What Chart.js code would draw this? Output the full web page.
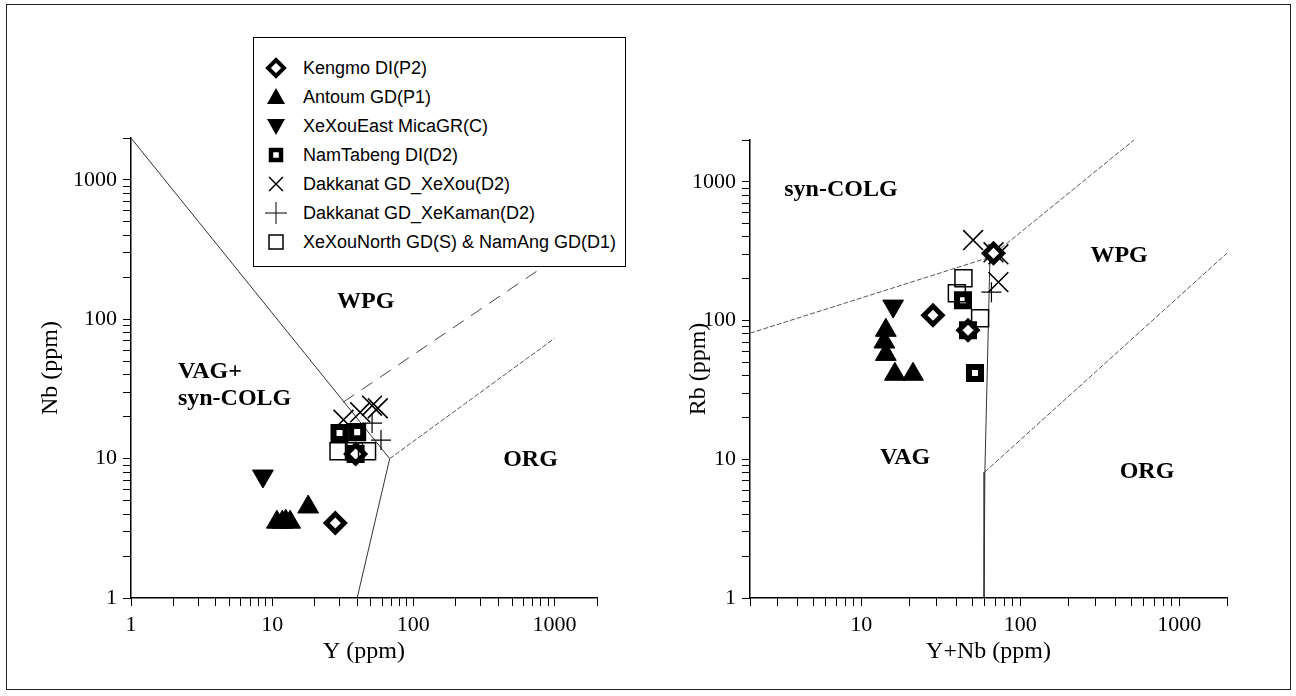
<!DOCTYPE html>
<html><head><meta charset="utf-8">
<script src="https://cdn.jsdelivr.net/npm/chart.js@4.4.1/dist/chart.umd.min.js"></script>
<style>
html,body{margin:0;padding:0;background:#fff;}
#wrap{position:relative;width:1296px;height:696px;overflow:hidden;background:#fff;}
#frame{position:absolute;left:6px;top:4px;width:1285px;height:686px;border:1.5px solid #222;box-sizing:border-box;}
canvas{position:absolute;top:0;}
#c1{left:0;} #c2{left:648px;}
#legend{position:absolute;left:253px;top:37px;width:373px;height:230px;border:1px solid #000;box-sizing:border-box;background:#fff;font:18px 'Liberation Sans',Arial,sans-serif;color:#000;}
.row{position:absolute;left:0;height:24px;line-height:24px;white-space:nowrap;width:370px;}
.row svg{position:absolute;left:10px;top:0;}
.row span{position:absolute;left:49px;top:0;}
</style></head>
<body>
<div id="wrap">
<div id="frame"></div>
<canvas id="c1" width="648" height="696"></canvas>
<canvas id="c2" width="648" height="696"></canvas>
<div id="legend"></div>
</div>
<script>
// ---------- series names ----------
const seriesNames = ['Kengmo DI(P2)','Antoum GD(P1)','XeXouEast MicaGR(C)','NamTabeng DI(D2)','Dakkanat GD_XeXou(D2)','Dakkanat GD_XeKaman(D2)','XeXouNorth GD(S) & NamAng GD(D1)'];

// ---------- Left plot: Y (ppm) vs Nb (ppm) ----------
const kengmoY = [28, 39];            const kengmoNb = [3.45, 10.8];
const antoumY = [10.8, 11.8, 12.5, 13.4, 18]; const antoumNb = [3.5, 3.5, 3.55, 3.5, 4.5];
const xexouEastY = [8.6];            const xexouEastNb = [7.5];
const namTabengY = [30, 40, 39];     const namTabengNb = [15.3, 15.5, 10.8];
const dakXeXouY = [32, 42, 51, 56];  const dakXeXouNb = [19, 21.5, 24, 23];
const dakXeKamanY = [51, 59];        const dakXeKamanNb = [18, 13.6];
const xexouNorthY = [29.5, 38, 47];  const xexouNorthNb = [11.3, 11.3, 11.3];

// ---------- Right plot: Y+Nb (ppm) vs Rb (ppm) ----------
const kengmoYNb = [28.3, 47, 68];            const kengmoRb = [109, 85, 305];
const antoumYNb = [14.3, 14, 14.3, 16.3, 21.2]; const antoumRb = [85, 70, 57, 41, 41];
const xexouEastYNb = [15.9];                 const xexouEastRb = [127];
const namTabengYNb = [43.7, 52, 47];         const namTabengRb = [140, 41.8, 85];
const dakXeXouYNb = [50.6, 68, 73, 73];      const dakXeXouRb = [380, 310, 300, 189];
const dakXeKamanYNb = [66];                  const dakXeKamanRb = [160];
const xexouNorthYNb = [44, 40, 56];          const xexouNorthRb = [202, 157, 104];

// ---------- Discrimination boundaries ----------
const nbyLineA_x = [1, 68];     const nbyLineA_y = [2000, 10];
const nbyLineB_x = [68, 40];    const nbyLineB_y = [10, 1];
const nbyLineC_x = [68, 1000];  const nbyLineC_y = [10, 73];
const nbyLineD_x = [32, 1000];  const nbyLineD_y = [25.5, 270];
const rbLineA_x = [2, 64.6];    const rbLineA_y = [81, 286];
const rbLineB_x = [64.6, 60, 59.3]; const rbLineB_y = [286, 8.1, 1];
const rbLineC_x = [60, 2000];   const rbLineC_y = [8.1, 306];
const rbLineD_x = [64.6, 520];  const rbLineD_y = [286, 2000];

// ---------- tick values ----------
const tickLabels = [1, 10, 100, 1000];
const leftXTicks  = [1,2,3,4,5,6,7,8,9,10,20,30,40,50,60,70,80,90,100,200,300,400,500,600,700,800,900,1000,2000];
const rightXTicks = [2,3,4,5,6,7,8,9,10,20,30,40,50,60,70,80,90,100,200,300,400,500,600,700,800,900,1000,2000];
const yTicks      = [1,2,3,4,5,6,7,8,9,10,20,30,40,50,60,70,80,90,100,200,300,400,500,600,700,800,900,1000,2000];

// ---------- region labels (data coordinates) ----------
const leftRegions = [
  {text:'WPG', x:46, y:133, align:'center'},
  {text:'VAG+', x:2.15, y:41.8, align:'left'},
  {text:'syn-COLG', x:2.15, y:26.8, align:'left'},
  {text:'ORG', x:676, y:9.8, align:'center'}
];
const rightRegions = [
  {text:'syn-COLG', x:7.46, y:870, align:'center'},
  {text:'WPG', x:419, y:291, align:'center'},
  {text:'VAG', x:18.9, y:10.2, align:'center'},
  {text:'ORG', x:628, y:8.1, align:'center'}
];

const zip = (xs, ys) => xs.map((v, i) => ({x: v, y: ys[i]}));

const styles = [
  {pointStyle:'rectRot', radius:9, borderWidth:5, bg:'#fff', rot:0},
  {pointStyle:'triangle', radius:12, borderWidth:1, bg:'#000', rot:0},
  {pointStyle:'triangle', radius:12, borderWidth:1, bg:'#000', rot:180},
  {pointStyle:'rect', radius:8.5, borderWidth:6, bg:'#fff', rot:0},
  {pointStyle:'crossRot', radius:14, borderWidth:1.6, bg:'#000', rot:0},
  {pointStyle:'cross', radius:10, borderWidth:1.2, bg:'#000', rot:0},
  {pointStyle:'rect', radius:12, borderWidth:1.5, bg:'rgba(0,0,0,0)', rot:0}
];

function pointDs(idx, xs, ys) {
  const s = styles[idx];
  return {label: seriesNames[idx], data: zip(xs, ys), pointStyle: s.pointStyle, pointRadius: s.radius,
    pointBorderWidth: s.borderWidth, pointBackgroundColor: s.bg, pointBorderColor:'#000',
    pointRotation: s.rot, showLine:false, order: 1};
}
function lineDs(xs, ys, dash, color) {
  return {label:'', data: zip(xs, ys), showLine:true, pointRadius:0, borderColor: color || '#444',
    borderWidth:1, borderDash: dash || [], fill:false, order: 10};
}

const regionPlugin = {
  id:'regions',
  beforeDatasetsDraw(chart, args, opts) {
    const {ctx} = chart; const x = chart.scales.x, y = chart.scales.y;
    ctx.save(); ctx.fillStyle = '#000'; ctx.font = 'bold 24px "Liberation Serif"'; ctx.textBaseline = 'middle';
    for (const l of (opts.labels || [])) {
      ctx.textAlign = l.align;
      ctx.fillText(l.text, x.getPixelForValue(l.x), y.getPixelForValue(l.y));
    }
    ctx.restore();
  }
};

function axis(ticksArr, min, title, fitProp, fitVal, pos, titlePad) {
  return {
    type:'logarithmic', position: pos, min: min, max: 2000,
    afterBuildTicks: s => { s.ticks = ticksArr.map(v => ({value: v})); },
    afterFit: s => { s[fitProp] = fitVal; },
    ticks: {autoSkip:false, maxRotation:0, padding: 6, color:'#000',
      font:{family:'Liberation Serif', size:22},
      callback: v => tickLabels.includes(v) ? String(v) : ''},
    grid: {display:true, drawOnChartArea:false, drawTicks:true, tickLength:8, color:'#000', tickColor:'#000', tickWidth:1},
    border: {display:true, color:'#000', width:1.5},
    title: {display:true, text: title, color:'#000', font:{family:'Liberation Serif', size:24}, padding: titlePad}
  };
}

function makeChart(id, datasets, xTicks, xMin, xTitle, yTitle, yWidth, pad, regions) {
  return new Chart(document.getElementById(id), {
    type:'scatter',
    data:{datasets},
    options:{
      responsive:false, animation:false, devicePixelRatio:1, events:[],
      layout:{padding: pad},
      plugins:{legend:{display:false}, tooltip:{enabled:false}, regions:{labels: regions}},
      scales:{
        x: axis(xTicks, xMin, xTitle, 'height', 98, 'bottom', {top:0, bottom:30}),
        y: axis(yTicks, 1, yTitle, 'width', yWidth, 'left', {top:36, bottom:0})
      }
    },
    plugins:[regionPlugin]
  });
}

makeChart('c1', [
  pointDs(6, xexouNorthY, xexouNorthNb),
  pointDs(0, kengmoY, kengmoNb),
  pointDs(3, namTabengY, namTabengNb),
  pointDs(1, antoumY, antoumNb),
  pointDs(2, xexouEastY, xexouEastNb),
  pointDs(4, dakXeXouY, dakXeXouNb),
  pointDs(5, dakXeKamanY, dakXeKamanNb),
  lineDs(nbyLineA_x, nbyLineA_y, [], '#333'),
  lineDs(nbyLineB_x, nbyLineB_y, [], '#333'),
  lineDs(nbyLineC_x, nbyLineC_y, [5,2], '#555'),
  lineDs(nbyLineD_x, nbyLineD_y, [13,9], '#444')
], leftXTicks, 1, 'Y (ppm)', 'Nb (ppm)', 131, {top:138, right:51, left:0, bottom:0}, leftRegions);

makeChart('c2', [
  pointDs(6, xexouNorthYNb, xexouNorthRb),
  pointDs(0, kengmoYNb, kengmoRb),
  pointDs(3, namTabengYNb, namTabengRb),
  pointDs(1, antoumYNb, antoumRb),
  pointDs(2, xexouEastYNb, xexouEastRb),
  pointDs(4, dakXeXouYNb, dakXeXouRb),
  pointDs(5, dakXeKamanYNb, dakXeKamanRb),
  lineDs(rbLineA_x, rbLineA_y, [5,2], '#555'),
  lineDs(rbLineB_x, rbLineB_y, [], '#333'),
  lineDs(rbLineC_x, rbLineC_y, [5,2], '#555'),
  lineDs(rbLineD_x, rbLineD_y, [5,2], '#555')
], rightXTicks, 2, 'Y+Nb (ppm)', 'Rb (ppm)', 102, {top:140, right:69, left:0, bottom:0}, rightRegions);

// ---------- HTML legend ----------
const legendIcons = [
  '<polygon points="12,4 20,12 12,20 4,12" fill="#fff" stroke="#000" stroke-width="4"/>',
  '<polygon points="12,3 21,19 3,19" fill="#000"/>',
  '<polygon points="3,5 21,5 12,21" fill="#000"/>',
  '<rect x="7" y="7" width="10" height="10" fill="#fff" stroke="#000" stroke-width="4.5"/>',
  '<path d="M5,5 L19,19 M19,5 L5,19" stroke="#000" stroke-width="1.5" fill="none"/>',
  '<path d="M1,12 L23,12 M12,1 L12,23" stroke="#000" stroke-width="1" fill="none"/>',
  '<rect x="5" y="5" width="14" height="14" fill="none" stroke="#000" stroke-width="1.5"/>'
];
const leg = document.getElementById('legend');
seriesNames.forEach((n, i) => {
  const row = document.createElement('div');
  row.className = 'row';
  row.style.top = (18 + i * 29) + 'px';
  row.innerHTML = '<svg width="24" height="24" viewBox="0 0 24 24">' + legendIcons[i] + '</svg><span></span>';
  row.querySelector('span').textContent = n;
  leg.appendChild(row);
});
</script>
</body></html>
